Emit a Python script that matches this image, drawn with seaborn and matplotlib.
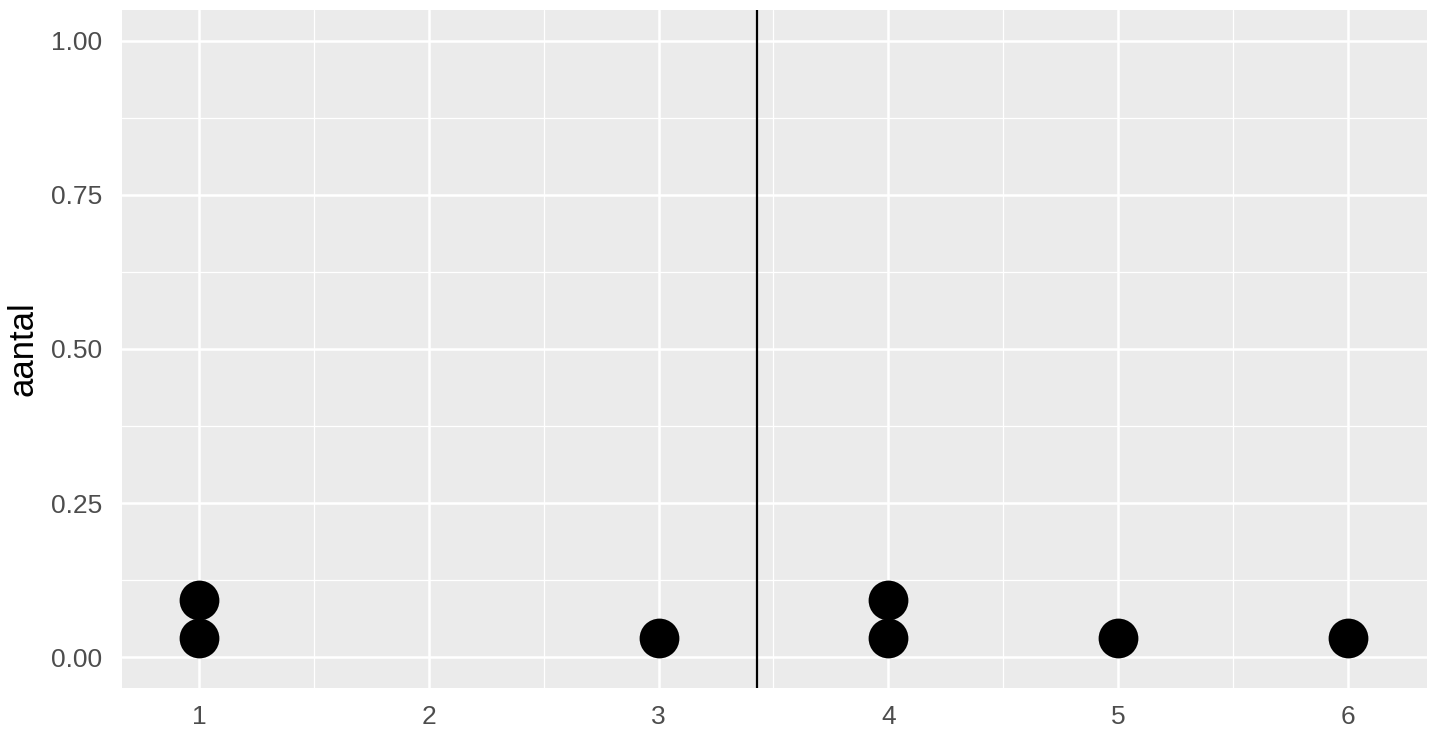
import numpy as np
import pandas as pd
import matplotlib
matplotlib.use("Agg")
import matplotlib.pyplot as plt
import seaborn as sns

values = [1, 1, 3, 4, 4, 5, 6]
x_ticks = [1, 2, 3, 4, 5, 6]
y_ticks = [0.00, 0.25, 0.50, 0.75, 1.00]
y_ticklabels = ["0.00", "0.25", "0.50", "0.75", "1.00"]

df = pd.DataFrame({"waarde": values})
df["stack"] = df.groupby("waarde").cumcount()
# dot height in y-units (ratio of axis scales)
dot_h = 0.0615
df["aantal"] = (df["stack"] + 0.5) * dot_h
mean_val = float(np.mean(values))

sns.set_theme(style="darkgrid")
plt.rcParams["font.family"] = ["Liberation Sans", "DejaVu Sans"]

fig = plt.figure(figsize=(14.4, 7.36), dpi=100)
ax = fig.add_axes([122 / 1440, 1 - 688 / 736, (1427 - 122) / 1440, (688 - 10) / 736])
ax.set_facecolor("#EBEBEB")

ax.set_xlim(0.665, 6.344)
ax.set_ylim(-0.05, 1.05)

ax.set_xticks(x_ticks)
ax.set_xticks([1.5, 2.5, 3.5, 4.5, 5.5], minor=True)
ax.set_yticks(y_ticks)
ax.set_yticklabels(y_ticklabels)
ax.set_yticks([0.125, 0.375, 0.625, 0.875], minor=True)

ax.grid(which="major", color="white", linewidth=1.8)
ax.grid(which="minor", color="white", linewidth=0.9)
ax.set_axisbelow(True)
for s in ax.spines.values():
    s.set_visible(False)

sns.scatterplot(data=df, x="waarde", y="aantal", ax=ax, s=820, color="black",
                edgecolor="black", linewidth=0, zorder=3, legend=False)
ax.axvline(mean_val, color="black", linewidth=1.6, zorder=4)

ax.tick_params(axis="both", which="major", length=5.5, width=1.3, color="#333333",
               labelcolor="#4D4D4D", labelsize=19)
ax.tick_params(axis="y", which="major", pad=9)
ax.tick_params(axis="x", which="major", pad=7)
ax.tick_params(axis="both", which="minor", length=0)
ax.set_xlabel("")
ax.set_ylabel("aantal", fontsize=25, color="black")
ax.yaxis.set_label_coords(-0.0636, 0.5)

fig.savefig("out.png", dpi=100, facecolor="white")
